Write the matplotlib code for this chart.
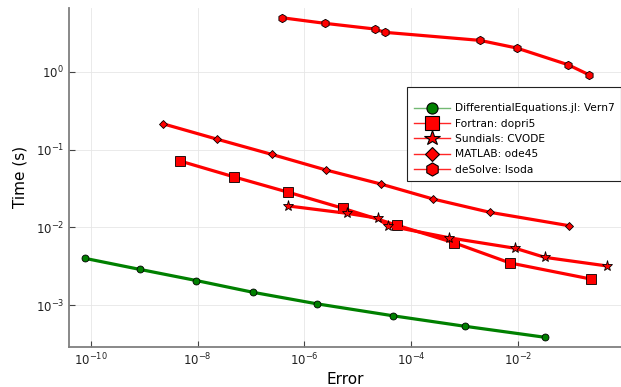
import numpy as np
import matplotlib
matplotlib.use('Agg')
import matplotlib.pyplot as plt
from matplotlib.lines import Line2D

plt.rcParams['font.family'] = ['DejaVu Sans']
plt.rcParams['axes.formatter.use_mathtext'] = True

# --- data (error vs. time in seconds) ---
vern7_err = [7.6e-11, 8.2e-10, 9.4e-9, 1.09e-7, 1.69e-6, 4.5e-5, 1.0e-3, 3.18e-2]
vern7_time = [4.0e-3, 2.88e-3, 2.07e-3, 1.46e-3, 1.04e-3, 7.3e-4, 5.35e-4, 3.86e-4]

dopri5_err = [4.7e-9, 4.9e-8, 5.0e-7, 5.2e-6, 5.5e-5, 6.3e-4, 7.1e-3, 0.234]
dopri5_time = [0.0711, 0.0443, 0.0282, 0.0176, 0.0106, 0.00634, 0.00348, 0.00216]

cvode_err = [5.0e-7, 6.4e-6, 2.34e-5, 3.6e-5, 5.06e-4, 8.97e-3, 3.18e-2, 0.474]
cvode_time = [0.0188, 0.0151, 0.0131, 0.0105, 0.00735, 0.00537, 0.00411, 0.00318]

ode45_err = [2.2e-9, 2.29e-8, 2.42e-7, 2.52e-6, 2.7e-5, 2.57e-4, 2.96e-3, 0.0893]
ode45_time = [0.215, 0.136, 0.0867, 0.0546, 0.036, 0.0231, 0.0156, 0.0105]

lsoda_err = [3.82e-7, 2.41e-6, 2.08e-5, 3.2e-5, 1.93e-3, 9.4e-3, 0.0867, 0.214]
lsoda_time = [4.94, 4.19, 3.54, 3.21, 2.53, 2.02, 1.23, 0.914]

labels = ['DifferentialEquations.jl: Vern7', 'Fortran: dopri5', 'Sundials: CVODE',
          'MATLAB: ode45', 'deSolve: lsoda']

green = '#008000'
red = '#ff0000'

fig = plt.figure(figsize=(6.21, 3.87), dpi=100)
ax = fig.add_axes([0.1111, 0.1041, 0.8889, 0.8752])

series = [
    (vern7_err, vern7_time, green, 'o', 5.0),
    (dopri5_err, dopri5_time, red, 's', 6.5),
    (cvode_err, cvode_time, red, '*', 8.0),
    (ode45_err, ode45_time, red, 'D', 4.5),
    (lsoda_err, lsoda_time, red, 'h', 6.0),
]
for err, t, col, mk, ms in series:
    ax.plot(err, t, '-', color=col, linewidth=2.3, marker=mk, markersize=ms,
            markerfacecolor=col, markeredgecolor='black', markeredgewidth=0.6, zorder=3)

ax.set_xscale('log')
ax.set_yscale('log')
ax.set_xlim(10 ** -10.41, 10 ** -0.07)
ax.set_ylim(10 ** -3.535, 10 ** 0.819)
ax.set_xticks([1e-10, 1e-8, 1e-6, 1e-4, 1e-2])
ax.set_yticks([1e-3, 1e-2, 1e-1, 1e0])
ax.minorticks_off()

ax.grid(True, color='#e6e6e6', linewidth=0.6, zorder=0)
ax.set_axisbelow(True)
for s in ['top', 'right']:
    ax.spines[s].set_visible(False)
for s in ['left', 'bottom']:
    ax.spines[s].set_color('#7f7f7f')
    ax.spines[s].set_linewidth(1.3)
ax.tick_params(axis='both', which='major', direction='in', length=4, width=0.8,
               color='#444444', labelsize=8.5, labelcolor='#222222')

ax.set_xlabel('Error', fontsize=11, labelpad=3)
ax.set_ylabel('Time (s)', fontsize=11, labelpad=6)

# legend: thin faded line + big opaque marker
leg_ms = {'o': 8, 's': 9.5, '*': 11.5, 'D': 7.5, 'h': 9.5}
handles = []
for err, t, col, mk, ms in series:
    ln = Line2D([], [], color=col, linewidth=1.0, alpha=0.55 if col == green else 0.85)
    mark = Line2D([], [], linestyle='none', marker=mk, markersize=leg_ms[mk],
                  markerfacecolor=col, markeredgecolor='black', markeredgewidth=0.8)
    handles.append((ln, mark))
leg = ax.legend(handles, labels, loc='upper right', bbox_to_anchor=(1.0, 0.768),
                borderaxespad=0.0, fontsize=7.7, frameon=True, fancybox=False,
                framealpha=1.0, edgecolor='#222222', title=' ', title_fontsize=3.5,
                handlelength=3.4, handletextpad=0.45, labelspacing=0.5, borderpad=0.6)
leg.get_frame().set_linewidth(0.8)

fig.savefig('out.png', dpi=100, facecolor='white')
